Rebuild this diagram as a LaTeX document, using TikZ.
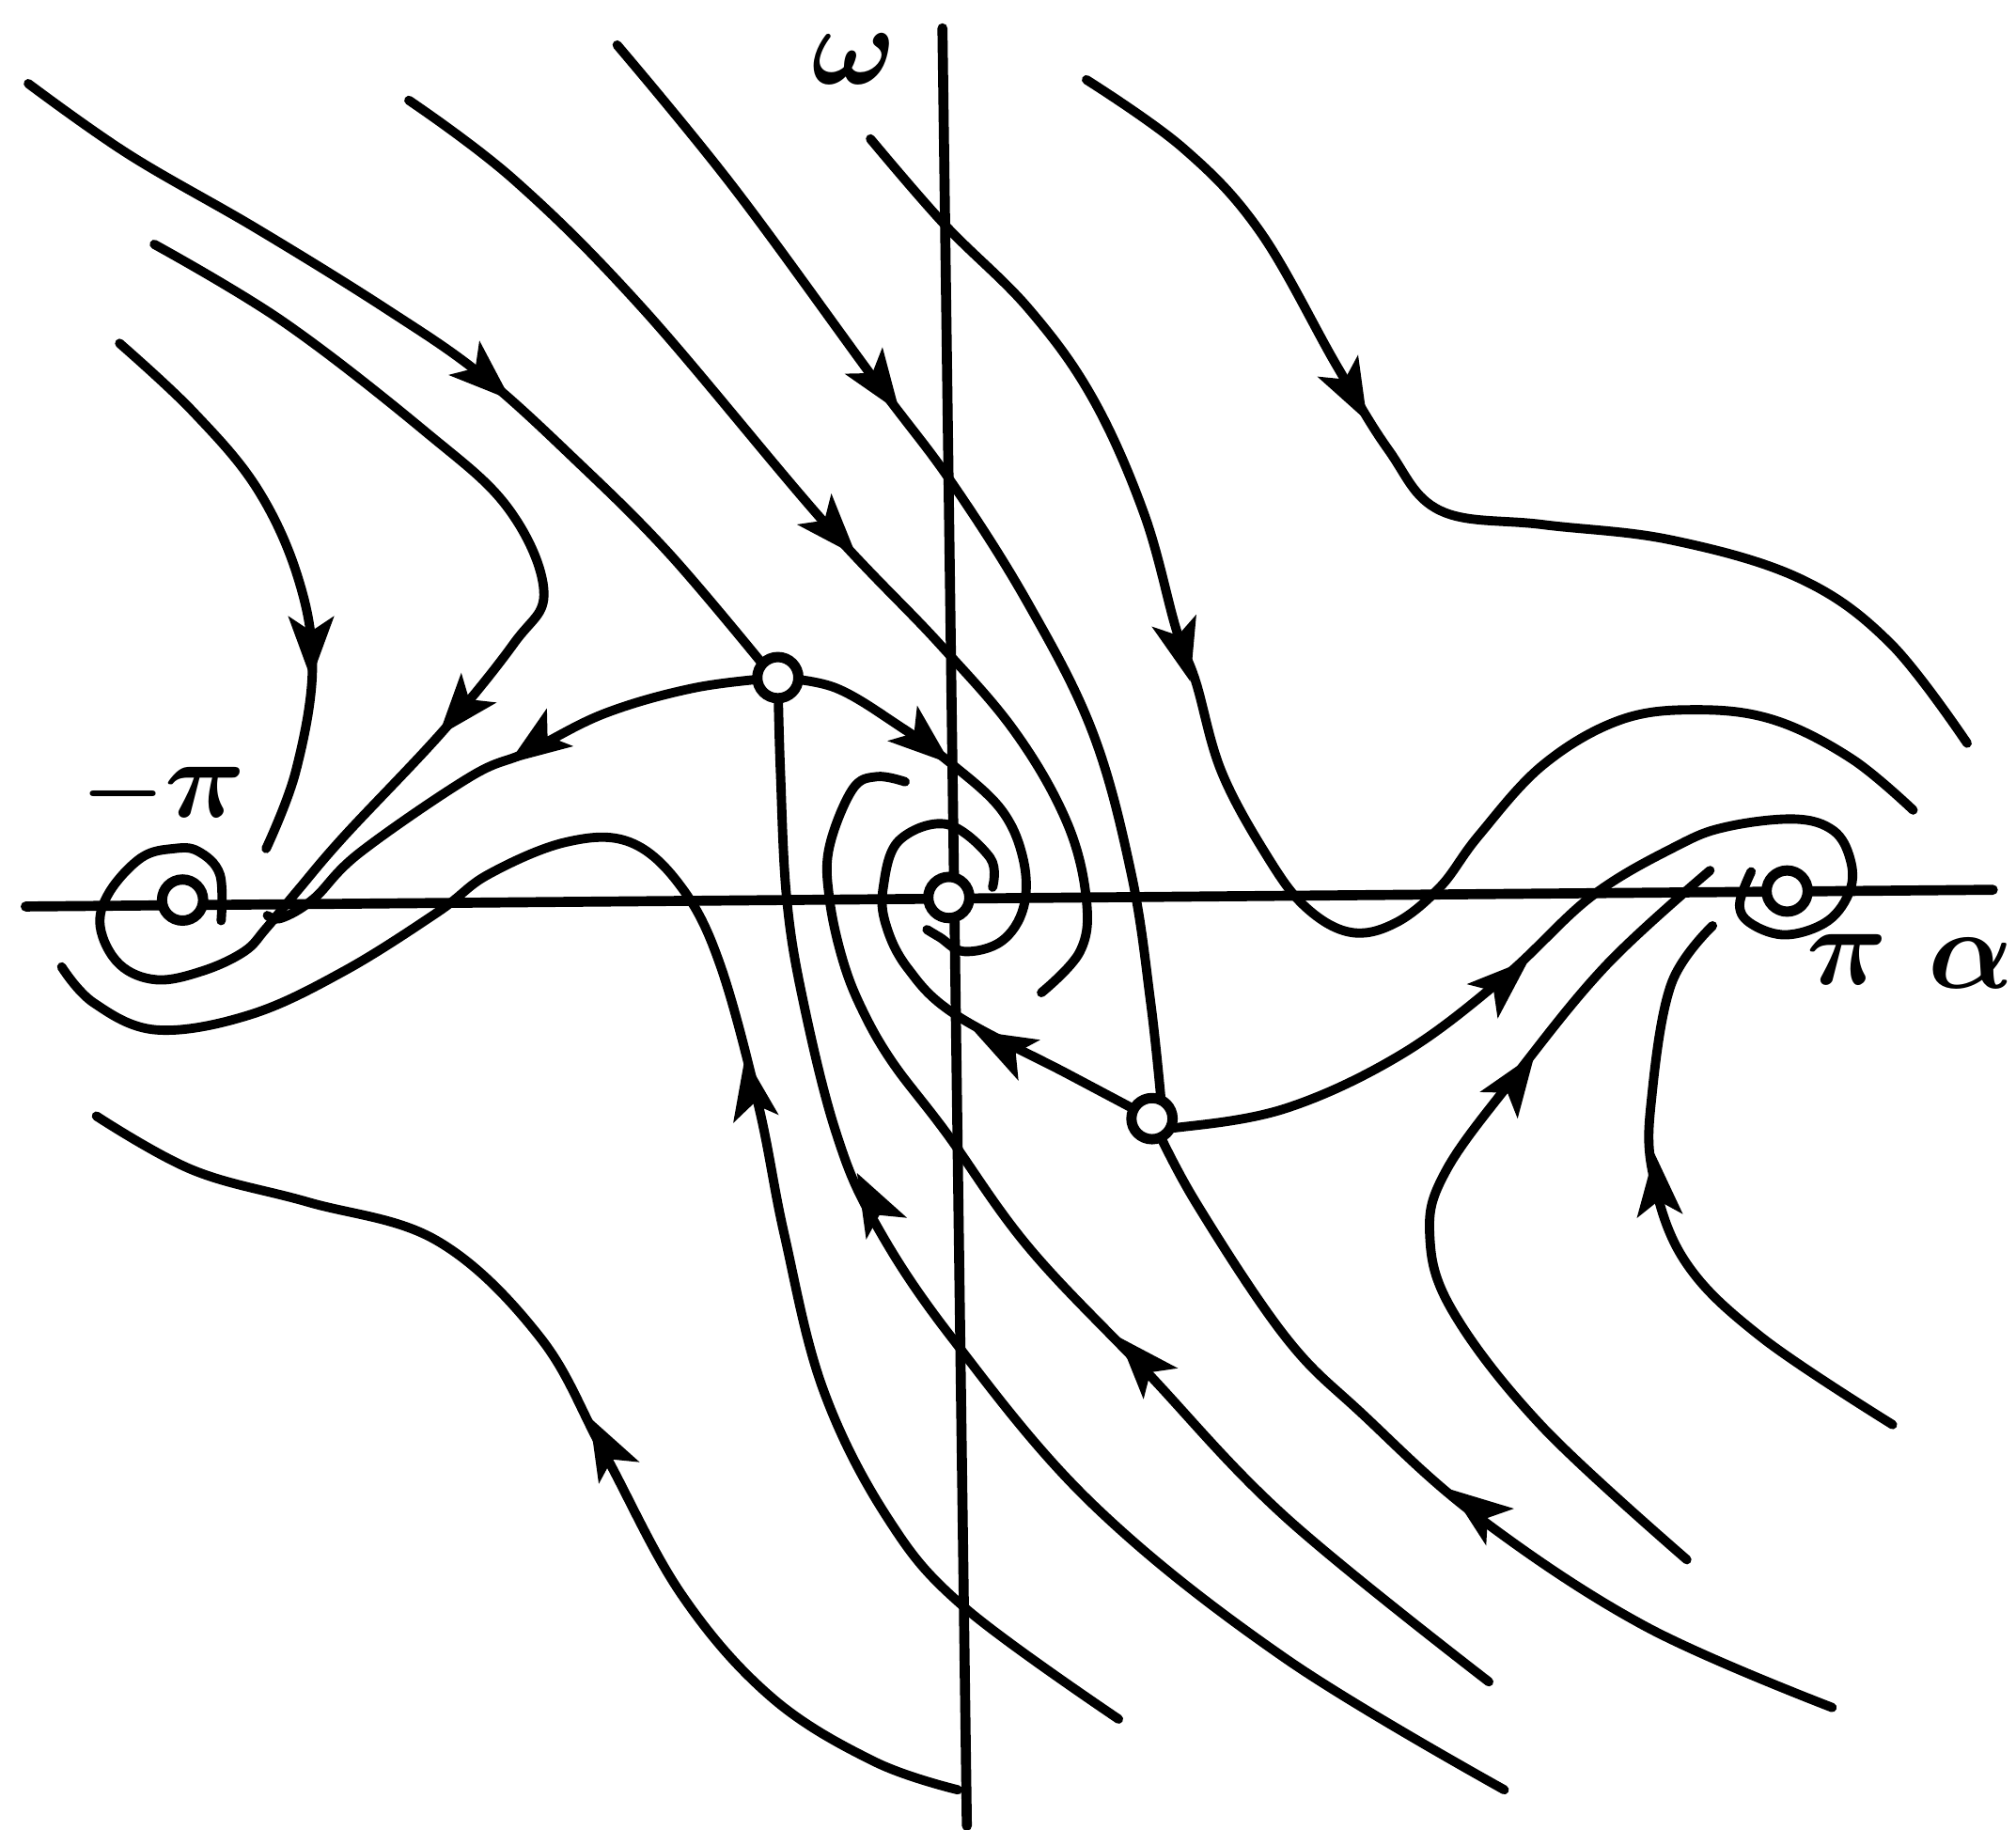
\documentclass[tikz,border=0pt]{standalone}
\usepackage{amsmath}
\newcommand{\barbhead}[3]{\fill[black,shift={(#1,#2)},rotate=#3] (3,0) -- (-46,18) -- (-34,0) -- (-46,-18) -- cycle;}
\newcommand{\flowline}[1]{\draw[flow] plot[smooth,tension=0.62] coordinates {#1};}
\tikzset{
  flow/.style={line width=0.072cm,line cap=round,line join=round,black},
  axisline/.style={line width=0.078cm,line cap=round,black},
  crit/.style={circle,draw=black,fill=white,line width=0.08cm,minimum size=0.32cm,inner sep=0pt},
  lab/.style={inner sep=0pt,font=\fontsize{30}{30}\selectfont\boldmath}
}
\begin{document}
\begin{tikzpicture}[x=0.01cm,y=-0.01cm]
\useasboundingbox (0,0) rectangle (1568,1423);
\fill[white] (0,0) rectangle (1568,1423);
% axes
\coordinate (al) at (20,705); \coordinate (ar) at (1550,692);
\coordinate (wt) at (733,22); \coordinate (wb) at (752,1420);
\draw[axisline] (al) -- (ar);
\draw[axisline] (wt) -- (wb);
% upper-left family
\flowline{(22,65)(100,120)(200,178)(300,240)(375,292)(450,360)(520,430)(592,515)}
\flowline{(93,267)(150,320)(200,380)(232,450)(243,520)(230,600)(207,660)}
\flowline{(120,190)(220,250)(330,335)(395,395)(423,460)(400,500)(345,568)(268,650)(232,692)(207,722)(190,740)(158,755)(122,762)(93,750)(78,721)(85,694)(110,667)(135,660)(154,662)(171,680)(172,716)}
\flowline{(605,527)(540,535)(470,555)(410,585)(366,604)(280,663)(244,699)(219,714)(208,712)}
\flowline{(48,752)(73,780)(122,801)(195,789)(268,755)(341,709)(380,680)(440,655)(490,655)(530,690)(560,750)(590,860)(610,960)(640,1080)(690,1180)(750,1250)(870,1337)}
% spirals
\flowline{(605,527)(650,535)(700,565)(740,594)(779,630)(796,669)(796,706)(779,732)(750,740)(731,729)(721,723)}
\flowline{(896,870)(830,835)(743,789)(706,753)(689,719)(687,690)(699,654)(736,641)(770,667)(772,690)}
\flowline{(704,608)(682,604)(663,614)(645,659)(645,698)(655,745)(670,784)(694,826)(736,881)(800,970)(890,1065)(1000,1180)(1158,1308)}
% top family
\flowline{(318,78)(400,140)(500,240)(640,405)(730,500)(790,570)(830,640)(845,700)(840,740)(810,772)}
\flowline{(480,35)(570,145)(680,295)(740,375)(800,470)(850,570)(880,680)(895,780)(903,855)}
\flowline{(677,108)(735,175)(800,240)(850,310)(890,400)(915,490)(930,530)(950,600)(985,665)(1015,705)(1050,725)(1085,718)(1120,690)(1150,650)(1200,595)(1260,560)(1320,552)(1380,560)(1440,590)(1488,630)}
\flowline{(845,62)(920,115)(980,180)(1040,285)(1080,350)(1120,397)(1200,408)(1300,420)(1400,450)(1470,500)(1530,578)}
% lower family
\flowline{(605,527)(607,600)(612,700)(625,780)(650,880)(680,950)(740,1040)(850,1170)(1000,1290)(1170,1392)}
\flowline{(896,870)(930,935)(1000,1040)(1060,1100)(1150,1180)(1280,1265)(1425,1328)}
\flowline{(896,875)(915,877)(1000,862)(1090,820)(1170,760)(1238,697)(1304,658)(1343,643)(1396,637)(1426,646)(1439,668)(1439,692)(1422,716)(1390,727)(1363,719)(1353,704)(1362,678)}
\flowline{(1312,1213)(1200,1110)(1130,1020)(1112,960)(1125,910)(1180,835)(1250,750)(1330,677)}
\flowline{(1472,1108)(1370,1040)(1310,980)(1285,910)(1285,850)(1300,765)(1332,720)}
\flowline{(745,1392)(680,1370)(600,1320)(530,1240)(470,1130)(420,1040)(340,965)(240,935)(150,910)(75,868)}
% arrowheads
\barbhead{395}{309}{-42}
\barbhead{698}{318}{-55}
\barbhead{664}{430}{-48}
\barbhead{1062}{325}{-62}
\barbhead{925}{527}{-75}
\barbhead{242}{525}{-90}
\barbhead{343}{570}{-130}
\barbhead{398}{592}{215}
\barbhead{737}{592}{-40}
\barbhead{760}{803}{152}
\barbhead{580}{825}{100}
\barbhead{668}{915}{118}
\barbhead{872}{1042}{132}
\barbhead{1130}{1160}{143}
\barbhead{460}{1105}{118}
\barbhead{1192}{822}{55}
\barbhead{1187}{748}{42}
\barbhead{1287}{900}{95}
% critical points
\node[crit] (s1) at (605,527) {};
\node[crit] (s2) at (896,870) {};
\node[crit] (c0) at (738,698) {};
\node[crit] (cl) at (142,700) {};
\node[crit] (cr) at (1390,693) {};
% labels
\node[lab,font=\fontsize{23}{23}\selectfont\boldmath] (lw) at (664,46) {$\omega$};
\node[lab] (lmp) at (127,617) {$\scriptstyle-\textstyle\pi$};
\node[lab] (lp) at (1437,746) {$\pi$};
\node[lab] (la) at (1533,749) {$\alpha$};
\end{tikzpicture}
\end{document}
